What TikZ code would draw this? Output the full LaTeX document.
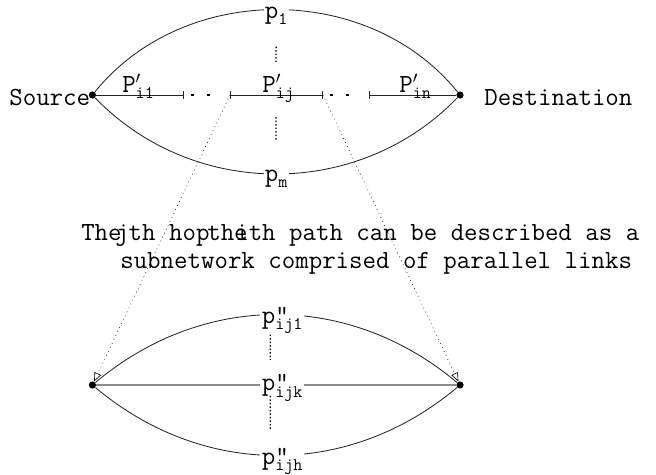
\documentclass[tikz,border=0pt]{standalone}
\usepackage{fontspec}
\usetikzlibrary{arrows.meta, positioning}
\newcommand{\subidx}[1]{\raisebox{-4.5pt}{\fontsize{12.5}{12.5}\selectfont #1}}

\begin{document}
\begin{tikzpicture}[
  txt/.style={font=\ttfamily\fontsize{18.6}{22}\selectfont, inner sep=0pt},
  plab/.style={font=\ttfamily\fontsize{18.6}{22}\selectfont, fill=white, inner sep=1pt},
  dot/.style={circle, fill=black, inner sep=0pt, minimum size=0.18cm},
  link/.style={draw=black!85, line width=0.6pt},
  hop/.style={draw=black!45, line width=1pt},
  tick/.style={link, {Bar[width=0.18cm]}-{Bar[width=0.18cm]}},
  gapdots/.style={line width=1.5pt, dash pattern=on 0.08cm off 0.32cm,
                  shorten <=0.17cm, shorten >=0.51cm},
  vdots/.style={line width=0.9pt, dash pattern=on 1.1pt off 1.4pt},
  zoomln/.style={line width=0.45pt, dash pattern=on 0.5pt off 2.6pt,
                 -{Triangle[open, length=0.22cm, width=0.18cm]}}
]
  \useasboundingbox (0,0) rectangle (16.4,11.85);

  % ========== upper network ==========
  \node[dot] (src) at (2.31, 9.475) {};
  \node[dot] (dst) at (11.5, 9.475) {};
  \node[txt, anchor=base east] (srclab) at (2.26, 9.225) {Source};
  \node[txt, anchor=base west] (dstlab) at (12.1, 9.225) {Destination};

  \draw[link] (src) to[bend left=51]
    node[plab, yshift=-4.5pt] (p1) {p\subidx{1}} (dst);
  \draw[link] (src) to[bend right=46]
    node[plab, yshift=-3.5pt] (pm) {p\subidx{m}} (dst);

  % hops along the i-th path
  \coordinate (k1) at (4.6, 9.475);
  \coordinate (k2) at (5.75, 9.475);
  \coordinate (k3) at (8.075, 9.475);
  \coordinate (k4) at (9.225, 9.475);
  \coordinate (mid) at (6.9, 9.475);

  \draw[link, -{Bar[width=0.18cm]}] (src) -- (k1);
  \draw[tick] (k2) -- (k3);
  \draw[link, {Bar[width=0.18cm]}-] (k4) -- (dst);
  \draw[gapdots] (k1) -- (k2);
  \draw[gapdots] (k3) -- (k4);

  \node[txt, anchor=base west] (hop1) at (3.05, 9.55) {P\rlap{$'$}\subidx{i1}};
  \node[txt, anchor=base west] (hopj) at (6.55, 9.55) {P\rlap{$'$}\subidx{ij}};
  \node[txt, anchor=base west] (hopn) at (9.975, 9.55) {P\rlap{$'$}\subidx{in}};

  \draw[vdots, shorten <=0.5cm, shorten >=0.8cm] (p1) -- (mid);
  \draw[vdots, shorten <=0.55cm, shorten >=0.69cm] (mid) -- (pm);

  % ========== caption ==========
  \node[txt, anchor=base west] (t1) at (2.025, 5.85) {The};
  \node[txt, anchor=base west] (t2) at (2.875, 5.85) {jth hop};
  \node[txt, anchor=base west] (t3) at (5.175, 5.85) {the};
  \node[txt, anchor=base west] (t4) at (5.875, 5.85) {ith path can be described as a};
  \node[txt, anchor=base west] (t5) at (3.0, 5.15) {subnetwork comprised of parallel links};

  % ========== lower network ==========
  \node[dot] (bsrc) at (2.31, 2.225) {};
  \node[dot] (bdst) at (11.5, 2.225) {};

  \draw[link] (bsrc) to[bend left=40]
    node[plab, xshift=0.15cm, yshift=-4pt] (pa) {p\rlap{"}\subidx{ij1}} (bdst);
  \draw[hop] (bsrc) --
    node[plab, xshift=0.15cm, yshift=-2pt] (pk) {p\rlap{"}\subidx{ijk}} (bdst);
  \draw[link] (bsrc) to[bend right=40]
    node[plab, xshift=0.15cm, yshift=-4pt] (ph) {p\rlap{"}\subidx{ijh}} (bdst);

  \draw[vdots, shorten <=0.36cm, shorten >=0.7cm]
    ([xshift=-0.3cm]pa.center) -- ([xshift=-0.3cm]pk.center);
  \draw[vdots, shorten <=0.2cm, shorten >=0.8cm]
    ([xshift=-0.3cm]pk.center) -- ([xshift=-0.3cm]ph.center);

  % zoom from the j-th hop
  \draw[zoomln] (k2) -- (bsrc);
  \draw[zoomln] (k3) -- (bdst);

\end{tikzpicture}
\end{document}
